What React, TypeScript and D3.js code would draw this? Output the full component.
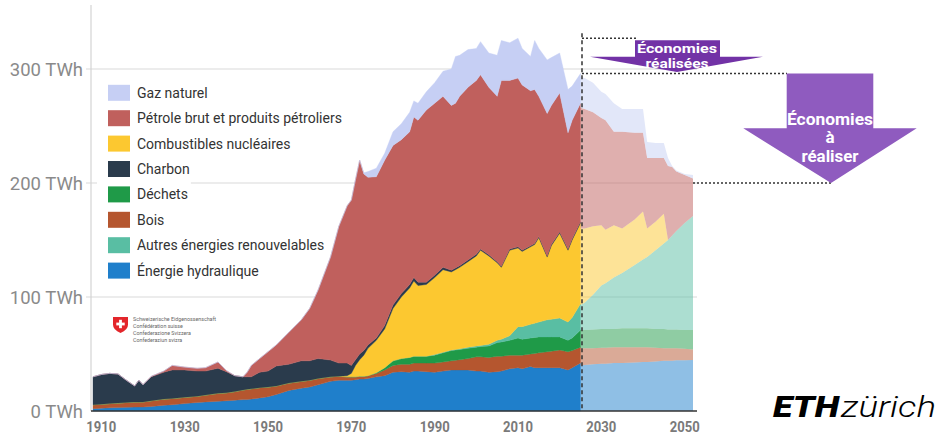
import React, { useMemo } from "react";
import * as d3 from "d3";

// ---------- DATA ----------
const keys = ["hydro", "bois", "dechets", "autres", "nucleaire", "charbon", "petrole", "gaz"];

const seriesLabels: Record<string, string> = {
  gaz: "Gaz naturel",
  petrole: "Pétrole brut et produits pétroliers",
  nucleaire: "Combustibles nucléaires",
  charbon: "Charbon",
  dechets: "Déchets",
  bois: "Bois",
  autres: "Autres énergies renouvelables",
  hydro: "Énergie hydraulique",
};
const legendOrder = ["gaz", "petrole", "nucleaire", "charbon", "dechets", "bois", "autres", "hydro"];

const histYears = [1908, 1910, 1912, 1914, 1916, 1918, 1919, 1920, 1922, 1925, 1927, 1930, 1933, 1935, 1938, 1940, 1942, 1944, 1945, 1946, 1948, 1950, 1952, 1955, 1958, 1960, 1962, 1965, 1967, 1969, 1970, 1971, 1972, 1973, 1974, 1976, 1978, 1980, 1982, 1984, 1985, 1986, 1988, 1990, 1992, 1994, 1995, 1996, 1998, 2000, 2001, 2003, 2005, 2006, 2008, 2010, 2011, 2013, 2014, 2015, 2017, 2018, 2020, 2022, 2023, 2025];
const histHydro = [2, 2.5, 2.8, 3, 3.2, 3.4, 3.5, 3.5, 4, 5, 5.5, 6.5, 7.5, 8, 8.5, 9, 9.5, 10, 10, 10.5, 11.5, 12.5, 14.5, 18, 20, 21, 23, 26, 27, 27, 27, 27.5, 28, 28, 28.5, 30, 31, 34, 34.5, 34, 35, 35, 34.5, 34, 35, 36, 36, 36, 36, 35, 35, 34, 34.5, 35, 37, 38, 37, 39, 38, 38, 38, 38, 38, 36, 38, 42];
const histBois = [3.5, 3.5, 3.7, 4, 4.3, 4.6, 4.5, 4.5, 5, 5.5, 5.5, 5.5, 5.5, 6, 7, 7, 7.5, 8.5, 9, 9, 9, 8.5, 7.5, 6.5, 6, 6, 5.5, 4, 3.5, 3, 3, 2.5, 2.5, 2.5, 2.5, 3, 5, 6, 6.5, 7, 7, 7, 7.5, 8, 8, 8, 8.5, 9, 10, 12.5, 12.5, 13, 13.5, 13, 12, 11, 12, 11, 12.5, 13, 14, 14.5, 15.5, 16, 15, 14];
const histDechets = [0, 0, 0, 0, 0, 0, 0, 0, 0, 0, 0, 0, 0, 0, 0, 0, 0, 0, 0, 0, 0, 0, 0, 0, 0, 0, 0, 0, 0, 0, 0, 0, 0, 0, 0, 0.5, 2, 4, 5, 6, 6, 6, 6, 7, 8, 9, 9, 9, 9, 8.5, 9, 10, 12, 12.5, 13, 15, 14, 14, 14, 14, 13, 12.5, 11.5, 10, 11, 15];
const histAutres = [0, 0, 0, 0, 0, 0, 0, 0, 0, 0, 0, 0, 0, 0, 0, 0, 0, 0, 0, 0, 0, 0, 0, 0, 0, 0, 0, 0, 0, 0, 0, 0, 0, 0, 0, 0, 0, 0, 0, 0, 0, 0, 0, 0.5, 0.5, 0.5, 0.5, 0.5, 1, 1, 1, 1.5, 2, 2.5, 4, 10, 11, 12, 12.5, 13, 15, 15.5, 16.5, 16, 18, 23];
const histNucleaire = [0, 0, 0, 0, 0, 0, 0, 0, 0, 0, 0, 0, 0, 0, 0, 0, 0, 0, 0, 0, 0, 0, 0, 0, 0, 0, 0, 0, 0, 1, 3, 10, 14.5, 18.5, 24, 28.5, 34, 46, 54, 61, 66, 62, 63, 67.5, 72.5, 68.5, 70, 71.5, 75, 79, 83.5, 77.5, 68, 63, 75, 69, 66, 68, 69, 74, 55, 64.5, 74.5, 63, 68, 71];
const histCharbon = [24.5, 26, 26.5, 25.5, 19.5, 14, 19, 15, 21, 23.5, 25, 24, 22, 21, 22, 18.5, 14, 11.5, 11, 10.5, 13.5, 14, 17.5, 16.5, 18, 17, 17.5, 14.7, 11.5, 11, 7, 5, 5, 4, 3, 2, 3, 3, 3, 3, 3, 3, 2, 2, 2, 1.5, 1.5, 1.5, 1.5, 1.5, 1, 1, 1, 1, 1, 1, 1, 1, 1, 1, 1, 1, 1, 1, 1, 1];
const histPetrole = [0, 0, 0, 0, 0, 0, 0, 0, 0.5, 1, 4, 2.5, 2.5, 3, 5.5, 1, 0, 0, 4, 10, 12, 17, 18.5, 28, 36, 46, 60, 90.3, 120, 138, 145, 158, 170, 155, 147, 141.5, 145, 140, 135, 134, 141, 142, 151, 151, 150, 144.5, 144.5, 148.5, 151.5, 152.5, 153, 147, 145, 163, 148, 148, 145, 136, 135, 123, 125, 122, 122, 102, 104, 104];
const histGaz = [0, 0, 0, 0, 0, 0, 0, 0, 0, 0, 0, 0, 0, 0, 0, 0, 0, 0, 0, 0, 0, 0, 0, 0, 0, 0, 0, 0, 0, 0, 0, 0, 0, 1, 5, 7.5, 6, 12, 14, 17, 14, 15, 16, 18, 22, 32, 41, 36, 33, 28, 29, 30, 36, 35, 33, 35, 32, 30, 43, 42, 47, 42, 35, 38, 30, 26];

const projYears = [2025, 2026, 2028, 2030, 2031, 2033, 2035, 2038, 2040, 2041, 2043, 2045, 2046, 2047, 2048, 2050, 2052];
const projHydro = [40, 40.4, 41, 41.5, 41.5, 42, 42, 42.5, 43, 43, 43.5, 44, 44, 44, 44.5, 44.5, 44.7];
const projBois = [15, 14.6, 14, 14, 14, 14, 14, 13.5, 13, 13, 12, 11, 11, 11, 10.5, 10, 9.3];
const projDechets = [16, 16, 16.5, 16.5, 16.5, 16, 16.5, 16.5, 16.5, 16.5, 16.5, 17, 16.5, 16.5, 16.5, 16.5, 17];
const projAutres = [22, 24, 30.5, 38, 40, 45, 48.5, 55.5, 60.5, 62.5, 69, 75, 78.5, 82.5, 86.5, 94, 100];
const projNucleaire = [67, 65, 60, 53, 47, 46, 39, 40, 42, 25, 25, 26, 0, 0, 0, 0, 0];
const projCharbon = [0, 0, 0, 0, 0, 0, 0, 0, 0, 0, 0, 0, 0, 0, 0, 0, 0];
const projPetrole = [106, 105, 100, 94, 96, 82, 85, 76, 69, 62, 56, 49, 65, 60, 52, 42, 33];
const projGaz = [27, 27, 26, 23, 23, 25, 20, 21, 21, 14, 13, 13, 7, 1, 1, 1, 3];

const yTicks = [0, 100, 200, 300];
const xTicks = [1910, 1930, 1950, 1970, 1990, 2010, 2030, 2050];

const presentYear = 2025;
const peakValue = 327;
const currentValue = 296;
const targetValue = 200;

const swissLines = ["Schweizerische Eidgenossenschaft", "Confédération suisse", "Confederazione Svizzera", "Confederaziun svizra"];

// ---------- STYLE ----------
const colors: Record<string, string> = {
  gaz: "#c6cff4",
  petrole: "#c0605d",
  nucleaire: "#fcc830",
  charbon: "#2a3b4c",
  dechets: "#1f9a48",
  bois: "#b5562f",
  autres: "#59bea3",
  hydro: "#1f7fcb",
};
const FONT = "Roboto, 'Noto Sans', Arial, sans-serif";

function buildRows(years: number[], cols: Record<string, number[]>) {
  return years.map((yr, i) => {
    const r: any = { year: yr };
    keys.forEach((k) => (r[k] = cols[k][i]));
    return r;
  });
}

function measure(text: string, font: string) {
  const c = document.createElement("canvas").getContext("2d");
  if (!c) return text.length * 7;
  c.font = font;
  return c.measureText(text).width;
}

export default function App() {
  const x = d3.scaleLinear().domain([1908, 2052]).range([93, 693]);
  const y = d3.scaleLinear().domain([0, 300]).range([411, 69]);

  const histStack = useMemo(() => {
    const rows = buildRows(histYears, {
      hydro: histHydro, bois: histBois, dechets: histDechets, autres: histAutres,
      nucleaire: histNucleaire, charbon: histCharbon, petrole: histPetrole, gaz: histGaz,
    });
    return d3.stack().keys(keys)(rows as any);
  }, []);
  const projStack = useMemo(() => {
    const rows = buildRows(projYears, {
      hydro: projHydro, bois: projBois, dechets: projDechets, autres: projAutres,
      nucleaire: projNucleaire, charbon: projCharbon, petrole: projPetrole, gaz: projGaz,
    });
    return d3.stack().keys(keys)(rows as any);
  }, []);

  const area = d3
    .area<any>()
    .x((d) => x(d.data.year))
    .y0((d) => y(d[0]))
    .y1((d) => y(d[1]))
    .curve(d3.curveLinear);

  const xLeft = 91;
  const xRight = 697;
  const xNow = x(presentYear) + 1.5;
  const xEnd = x(2052);

  const legendX = 108;
  const legendY0 = 92.8;
  const legendStep = 25.4;
  const legendFont = `14px ${FONT}`;

  return (
    <svg
      width={944}
      height={435}
      style={{ position: "fixed", left: 0, top: 0, background: "#fff" }}
      fontFamily={FONT}
    >
      <rect x={0} y={0} width={944} height={435} fill="#fff" />
      {/* gridlines */}
      {yTicks.filter((t) => t > 0).map((t) => (
        <line key={t} x1={86} x2={xRight} y1={y(t)} y2={y(t)} stroke="#dadada" strokeWidth={1.2} />
      ))}
      <line x1={xLeft} x2={xLeft} y1={5} y2={y(0)} stroke="#d4d4d4" strokeWidth={1.2} />

      {/* historical areas */}
      {histStack.map((s) => (
        <path key={"h" + s.key} d={area(s as any) || ""} fill={colors[s.key]} stroke={colors[s.key]} strokeWidth={0.4} />
      ))}
      {/* projection areas */}
      {projStack.map((s) => (
        <path key={"p" + s.key} d={area(s as any) || ""} fill={colors[s.key]} fillOpacity={0.5} />
      ))}

      {/* baseline */}
      <line x1={xLeft} x2={xRight} y1={y(0)} y2={y(0)} stroke="#333" strokeWidth={1.3} />

      {/* x labels */}
      {xTicks.map((t) => (
        <text key={t} x={x(t)} y={432} textAnchor="middle" fontSize={14.5} fontWeight={700} fill="#7a7a7a"
          textLength={30} lengthAdjust="spacingAndGlyphs">
          {t}
        </text>
      ))}
      {/* y labels */}
      {yTicks.map((t) => (
        <text key={t} x={83} y={y(t) + 7} textAnchor="end" fontSize={18.5} fill="#8a8a8a">
          {`${t} TWh`}
        </text>
      ))}

      {/* legend */}
      {legendOrder.map((k, i) => {
        const cy = legendY0 + i * legendStep;
        const tw = measure(seriesLabels[k], legendFont);
        return (
          <g key={k}>
            <rect x={97} y={cy - 12.5} width={137 + tw + 3 - 97} height={25} fill="#fff" />
            <rect x={legendX} y={cy - 8} width={22} height={16} fill={colors[k]} />
            <text x={137} y={cy + 5} fontSize={14} fill="#333">
              {seriesLabels[k]}
            </text>
          </g>
        );
      })}

      {/* Swiss confederation logo */}
      <g>
        <path d="M113,317 h15 v7.5 q0,5.5 -7.5,8.5 q-7.5,-3 -7.5,-8.5 z" fill="#e3262b" />
        <rect x={116.3} y={322.6} width={8.4} height={2.8} fill="#fff" />
        <rect x={119.1} y={319.8} width={2.8} height={8.4} fill="#fff" />
        {swissLines.map((l, i) => (
          <text key={l} x={133} y={321 + i * 7} fontSize={5.3} fill="#666">
            {l}
          </text>
        ))}
      </g>

      {/* present-day dashed line */}
      <line x1={xNow} x2={xNow} y1={y(peakValue) - 5} y2={y(0)} stroke="#333" strokeWidth={1.5} strokeDasharray="4,3" />
      {/* dotted reference lines */}
      <line x1={xNow} x2={638} y1={y(peakValue)} y2={y(peakValue)} stroke="#333" strokeWidth={1.4} strokeDasharray="2,2" />
      <line x1={xNow} x2={787} y1={y(currentValue)} y2={y(currentValue)} stroke="#333" strokeWidth={1.4} strokeDasharray="2,2" />
      <line x1={xEnd} x2={833} y1={y(targetValue)} y2={y(targetValue)} stroke="#333" strokeWidth={1.4} strokeDasharray="2,2" />

      {/* arrow: Économies réalisées */}
      <path
        d={`M635,${y(peakValue) + 2} H720 V56.7 H763 L677,${y(currentValue) - 1.5} L590,56.7 H635 Z`}
        fill="#7232a6"
      />
      <text x={677} y={53} textAnchor="middle" fontSize={12.5} fontWeight={700} fill="#fff"
        textLength={80} lengthAdjust="spacingAndGlyphs">Économies</text>
      <text x={677} y={67.5} textAnchor="middle" fontSize={12.5} fontWeight={700} fill="#fff"
        textLength={63} lengthAdjust="spacingAndGlyphs">réalisées</text>

      {/* arrow: Économies à réaliser */}
      <path
        d={`M786.7,${y(currentValue)} H873.3 V128.3 H916.7 L831,${y(targetValue)} L743.3,128.3 H786.7 Z`}
        fill="#8f5bbf"
      />
      <text x={830} y={124.5} textAnchor="middle" fontSize={17} fontWeight={700} fill="#fff"
        textLength={86} lengthAdjust="spacingAndGlyphs">Économies</text>
      <text x={830} y={143} textAnchor="middle" fontSize={17} fontWeight={700} fill="#fff">à</text>
      <text x={830} y={161.5} textAnchor="middle" fontSize={17} fontWeight={700} fill="#fff"
        textLength={57} lengthAdjust="spacingAndGlyphs">réaliser</text>

      {/* ETH logo */}
      <text x={773} y={417} fontSize={29} fontWeight={900} fontStyle="italic" fill="#000"
        textLength={66} lengthAdjust="spacingAndGlyphs">ETH</text>
      <text x={841} y={417} fontSize={29} fontWeight={300} fontStyle="italic" fill="#000"
        textLength={95} lengthAdjust="spacingAndGlyphs">zürich</text>
    </svg>
  );
}
